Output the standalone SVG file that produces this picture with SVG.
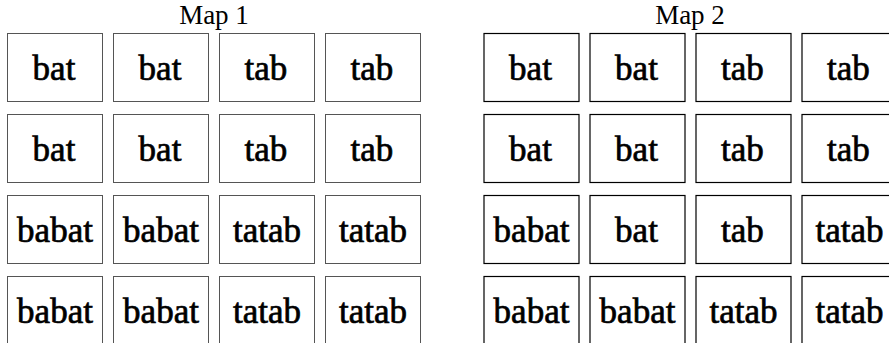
<svg xmlns="http://www.w3.org/2000/svg" width="889" height="343" viewBox="0 0 889 343">
<style>
.t{font-family:"Liberation Serif",serif;font-size:27px;fill:#000;text-anchor:middle}
.c1 rect{fill:#fff;stroke:#555;stroke-width:1}
.c2 rect{fill:#fff;stroke:#000;stroke-width:1.2}
.w{font-family:"Liberation Serif",serif;font-size:35px;fill:#000;text-anchor:middle;stroke:#000;stroke-width:0.7}
</style>
<rect width="889" height="343" fill="#fff"/>
<text class="t" x="214" y="23.5">Map 1</text>
<text class="t" x="690" y="23.5">Map 2</text>
<g class="c1">
<g id="m1r1c1"><rect x="7.5" y="33.5" width="95" height="68"/><text class="w" x="54" y="80">bat</text></g>
<g id="m1r1c2"><rect x="113.5" y="33.5" width="95" height="68"/><text class="w" x="160" y="80">bat</text></g>
<g id="m1r1c3"><rect x="219.5" y="33.5" width="95" height="68"/><text class="w" x="266" y="80">tab</text></g>
<g id="m1r1c4"><rect x="325.5" y="33.5" width="95" height="68"/><text class="w" x="372" y="80">tab</text></g>
<g id="m1r2c1"><rect x="7.5" y="114.5" width="95" height="68"/><text class="w" x="54" y="161">bat</text></g>
<g id="m1r2c2"><rect x="113.5" y="114.5" width="95" height="68"/><text class="w" x="160" y="161">bat</text></g>
<g id="m1r2c3"><rect x="219.5" y="114.5" width="95" height="68"/><text class="w" x="266" y="161">tab</text></g>
<g id="m1r2c4"><rect x="325.5" y="114.5" width="95" height="68"/><text class="w" x="372" y="161">tab</text></g>
<g id="m1r3c1"><rect x="7.5" y="195.5" width="95" height="68"/><text class="w" x="55" y="242">babat</text></g>
<g id="m1r3c2"><rect x="113.5" y="195.5" width="95" height="68"/><text class="w" x="161" y="242">babat</text></g>
<g id="m1r3c3"><rect x="219.5" y="195.5" width="95" height="68"/><text class="w" x="267" y="242">tatab</text></g>
<g id="m1r3c4"><rect x="325.5" y="195.5" width="95" height="68"/><text class="w" x="373" y="242">tatab</text></g>
<g id="m1r4c1"><rect x="7.5" y="276.5" width="95" height="68"/><text class="w" x="55" y="323">babat</text></g>
<g id="m1r4c2"><rect x="113.5" y="276.5" width="95" height="68"/><text class="w" x="161" y="323">babat</text></g>
<g id="m1r4c3"><rect x="219.5" y="276.5" width="95" height="68"/><text class="w" x="267" y="323">tatab</text></g>
<g id="m1r4c4"><rect x="325.5" y="276.5" width="95" height="68"/><text class="w" x="373" y="323">tatab</text></g>
</g>
<g class="c2">
<g id="m2r1c1"><rect x="484" y="33.5" width="95" height="68"/><text class="w" x="530.5" y="80">bat</text></g>
<g id="m2r1c2"><rect x="590" y="33.5" width="95" height="68"/><text class="w" x="636.5" y="80">bat</text></g>
<g id="m2r1c3"><rect x="696" y="33.5" width="95" height="68"/><text class="w" x="742.5" y="80">tab</text></g>
<g id="m2r1c4"><rect x="802" y="33.5" width="95" height="68"/><text class="w" x="848.5" y="80">tab</text></g>
<g id="m2r2c1"><rect x="484" y="114.5" width="95" height="68"/><text class="w" x="530.5" y="161">bat</text></g>
<g id="m2r2c2"><rect x="590" y="114.5" width="95" height="68"/><text class="w" x="636.5" y="161">bat</text></g>
<g id="m2r2c3"><rect x="696" y="114.5" width="95" height="68"/><text class="w" x="742.5" y="161">tab</text></g>
<g id="m2r2c4"><rect x="802" y="114.5" width="95" height="68"/><text class="w" x="848.5" y="161">tab</text></g>
<g id="m2r3c1"><rect x="484" y="195.5" width="95" height="68"/><text class="w" x="531.5" y="242">babat</text></g>
<g id="m2r3c2"><rect x="590" y="195.5" width="95" height="68"/><text class="w" x="636.5" y="242">bat</text></g>
<g id="m2r3c3"><rect x="696" y="195.5" width="95" height="68"/><text class="w" x="742.5" y="242">tab</text></g>
<g id="m2r3c4"><rect x="802" y="195.5" width="95" height="68"/><text class="w" x="849.5" y="242">tatab</text></g>
<g id="m2r4c1"><rect x="484" y="276.5" width="95" height="68"/><text class="w" x="531.5" y="323">babat</text></g>
<g id="m2r4c2"><rect x="590" y="276.5" width="95" height="68"/><text class="w" x="637.5" y="323">babat</text></g>
<g id="m2r4c3"><rect x="696" y="276.5" width="95" height="68"/><text class="w" x="743.5" y="323">tatab</text></g>
<g id="m2r4c4"><rect x="802" y="276.5" width="95" height="68"/><text class="w" x="849.5" y="323">tatab</text></g>
</g>
<g id="connectors"/>
</svg>
